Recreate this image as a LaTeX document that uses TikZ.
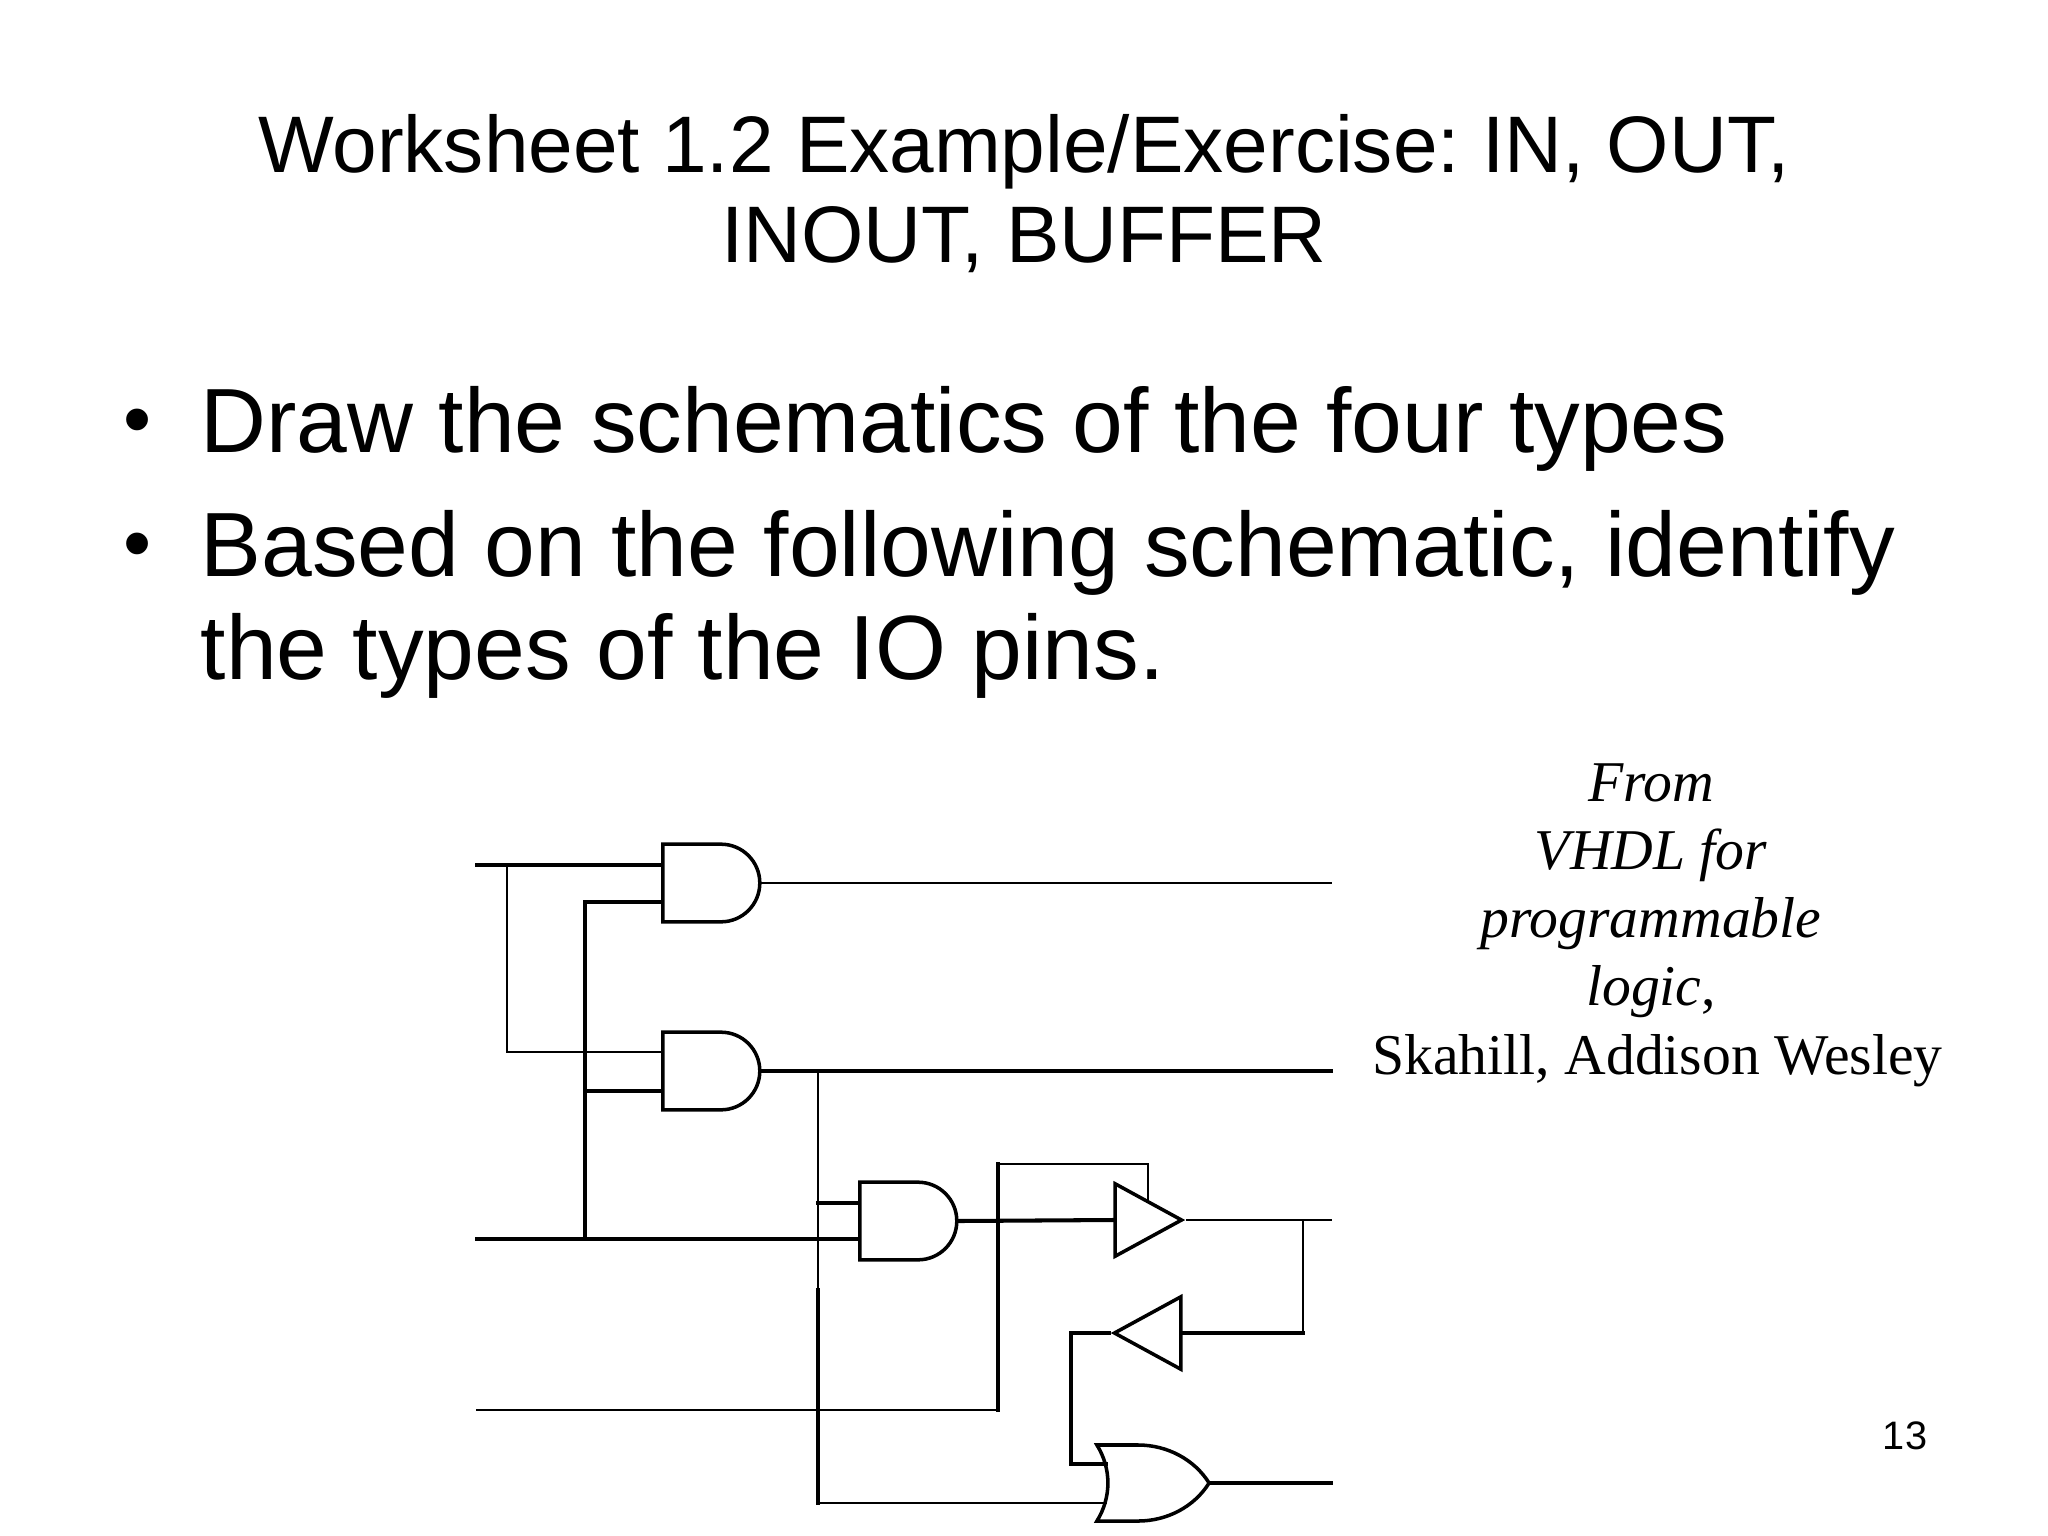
\documentclass[tikz,border=0pt]{standalone}
\usepackage{fontspec}
\setmainfont{Liberation Sans}
\newfontfamily\bookfont{Liberation Serif}
\usetikzlibrary{shapes.gates.logic.US}
\newcommand\gw{9.7mm}
\newcommand\gh{7.6mm}
\tikzset{
  thinwire/.style={line width=0.7pt,line cap=rect},
  thickwire/.style={line width=1.15pt,line cap=rect},
  andgate/.style={and gate US,draw,line width=1pt,anchor=west,inner sep=0pt,
    minimum width=\gw,minimum height=\gh,logic gate input sep=2.53mm},
  orgate/.style={or gate US,draw,line width=1pt,anchor=west,inner sep=0pt,
    minimum width=\gw,minimum height=\gh,logic gate input sep=2.53mm,
    transform shape,xscale=1.08},
  bufgate/.style={buffer gate US,draw,line width=1pt,inner sep=0pt,anchor=west,
    transform shape,xscale=1.26,yscale=1.47},
  titletext/.style={anchor=base,align=center,font=\fontsize{22.8}{25.5}\selectfont},
  bodytext/.style={anchor=base west,align=left,inner sep=0pt,font=\fontsize{25.95}{29.2}\selectfont},
  dottext/.style={anchor=base,inner sep=0pt,font=\fontsize{22.8}{25}\selectfont},
  booktext/.style={anchor=north,align=center,font=\bookfont\fontsize{16.4}{19.4}\selectfont}
}
\begin{document}
\frenchspacing
\begin{tikzpicture}[x=0.01cm,y=-0.01cm]
    \useasboundingbox (0,0) rectangle (2048,1536);

    \node[titletext] (title) at (1024,262) {Worksheet 1.2 Example/Exercise: IN, OUT,\\INOUT, BUFFER};
    \node[bodytext] (firstitem) at (200,452) {Draw the schematics of the four types};
    \node[bodytext] (seconditem) at (200,679) {Based on the following schematic, identify\\the types of the IO pins.};
    \node[dottext] (firstdot) at (138,446) {•};
    \node[dottext] (seconddot) at (138,570) {•};
    \node[booktext] (book) at (1651,751) {\textit{From}\\\textit{VHDL for}\\\textit{programmable}\\\textit{logic},\\\hspace*{3.7pt}Skahill, Addison Wesley};
    \node[font=\fontsize{11.3}{13}\selectfont] (pagenum) at (1905,1436) {13};

    \node[andgate] (anda) at (661,883) {};
    \node[andgate] (andb) at (661,1071) {};
    \node[andgate] (andc) at (858,1221) {};
    \node[orgate] (orgt) at (1106,1483) {};
    \node[bufgate] (bufa) at (1113,1220) {};
    \node[bufgate,rotate=180] (bufb) at (1183,1333) {};

    \coordinate (ina) at (477,865);
    \coordinate (inb) at (477,1239);
    \coordinate (inc) at (477,1410);
    \coordinate (outa) at (1331,883);
    \coordinate (outb) at (1331,1071);
    \coordinate (outc) at (1331,1220);
    \coordinate (outd) at (1331,1483);
    \coordinate (tapa) at (507,865);
    \coordinate (tapb) at (585,1239);
    \coordinate (tapc) at (818,1071);
    \coordinate (tape) at (1303,1220);
    \coordinate (enbl) at (1148,1202);
    \coordinate (bnda) at (585,902);
    \coordinate (bndb) at (585,1091);
    \coordinate (bndc) at (507,1052);
    \coordinate (bndd) at (818,1203);
    \coordinate (bnde) at (818,1290);
    \coordinate (bndf) at (818,1503);
    \coordinate (bndg) at (998,1410);
    \coordinate (bndh) at (998,1164);
    \coordinate (bndi) at (1071,1333);
    \coordinate (bndj) at (1071,1464);

    \draw[thickwire] (ina) -- (ina -| anda.west);
    \draw[thinwire] (tapa) -- (bndc) -- (bndc -| andb.west);
    \draw[thickwire] (tapb) -- (bnda) -- (bnda -| anda.west);
    \draw[thickwire] (bndb) -- (bndb -| andb.west);
    \draw[thickwire] (inb) -- (inb -| andc.west);
    \draw[thinwire] (anda.output) -- (outa);
    \draw[thickwire] (andb.output) -- (outb);
    \draw[thinwire] (tapc) -- (bnde);
    \draw[thickwire] (bnde) -- (bndf);
    \draw[thinwire] (bndf) -- (bndf -| orgt.west);
    \draw[thickwire] (bndd) -- (bndd -| andc.west);
    \draw[thickwire] (andc.output) -- (bufa.west);
    \draw[thinwire] (inc) -- (bndg);
    \draw[thickwire] (bndg) -- (bndh);
    \draw[thinwire] (bndh) -| (enbl);
    \draw[thinwire] (bufa.east) -- (outc);
    \draw[thinwire] (tape) |- (bufb.west);
    \draw[thickwire] (bufb.west) -- (bufb.west -| tape);
    \draw[thickwire] (bufb.east) -- (bndi) -- (bndj) -- (bndj -| orgt.west);
    \draw[thickwire] (orgt.output) -- (outd);
\end{tikzpicture}
\end{document}
